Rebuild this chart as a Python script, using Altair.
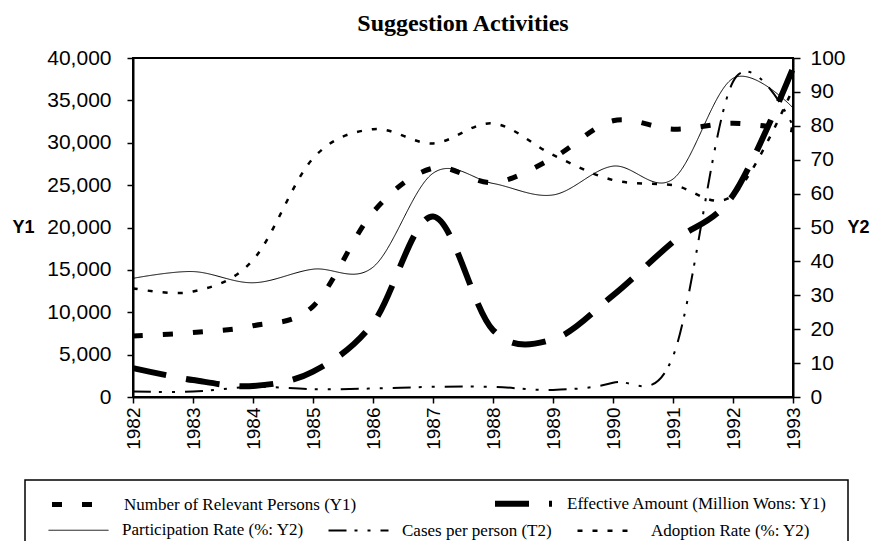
import altair as alt
import pandas as pd

# ---- data ----
years = list(range(1982, 1994))
relevant_persons = [7200, 7600, 8400, 10700, 21800, 27000, 25300, 28200, 32600, 31600, 32300, 31500]
effective_amount = [3400, 2000, 1300, 3000, 8700, 21300, 7900, 6800, 12000, 18300, 23800, 38800]
participation_rate = [35.0, 37.0, 33.7, 37.7, 38.3, 66.0, 63.0, 59.6, 68.1, 64.3, 94.0, 85.3]
cases_per_person = [1.6, 1.6, 3.0, 2.3, 2.5, 3.0, 3.0, 2.1, 4.2, 12.0, 93.0, 80.0]
adoption_rate = [32.1, 31.1, 40.4, 70.4, 79.0, 74.8, 80.7, 71.4, 64.0, 62.5, 59.5, 91.0]

y1_names = ["Number of Relevant Persons (Y1)", "Effective Amount (Million Wons: Y1)"]
y2_names = ["Participation Rate (%: Y2)", "Cases per person (T2)", "Adoption Rate (%: Y2)"]
y1_ticks = list(range(0, 40001, 5000))
y2_ticks = list(range(0, 101, 10))

rows1 = []
for name, vals in zip(y1_names, [relevant_persons, effective_amount]):
    for yr, v in zip(years, vals):
        rows1.append({"year": yr, "series": name, "value": v})
df1 = pd.DataFrame(rows1)

rows2 = []
for name, vals in zip(y2_names, [participation_rate, cases_per_person, adoption_rate]):
    for yr, v in zip(years, vals):
        rows2.append({"year": yr, "series": name, "value": v})
df2 = pd.DataFrame(rows2)

SANS = "Liberation Sans"
SERIF = "Liberation Serif"

x_enc = alt.X(
    "year:Q",
    scale=alt.Scale(domain=[1982, 1993], nice=False, zero=False),
    axis=alt.Axis(values=years, labelExpr="format(datum.value, 'd')", labelAngle=-90,
                  title=None, labelFontSize=19, labelPadding=4, tickSize=6),
)


def legend_params(lx, ly, cols, pad, size):
    return alt.Legend(
        title=None, orient="none", legendX=lx, legendY=ly, direction="horizontal",
        columns=cols, columnPadding=pad, symbolType="stroke", symbolSize=size,
        labelFont=SERIF, labelFontSize=17, labelColor="black", labelOffset=12,
        padding=0, symbolStrokeColor="black", labelLimit=400,
    )


leg1 = legend_params(-84, 414, 2, 126, 3249)
leg2 = legend_params(-86, 441, 3, 20, 3600)

left = alt.Chart(df1).mark_line(interpolate="cardinal", color="black").encode(
    x=x_enc,
    y=alt.Y("value:Q", scale=alt.Scale(domain=[0, 40000], nice=False),
            axis=alt.Axis(orient="left", values=y1_ticks,
                          labelExpr="format(datum.value, ',')", title="Y1",
                          labelPadding=16, tickSize=6, titleAngle=0, titleX=-121,
                          titleY=169.5, titleAlign="left", titleBaseline="middle",
                          titleFont=SANS, titleFontSize=18, titleFontWeight="bold")),
    strokeDash=alt.StrokeDash("series:N", sort=y1_names,
                              scale=alt.Scale(domain=y1_names, range=[[10, 20], [34, 20]]),
                              legend=leg1),
    strokeWidth=alt.StrokeWidth("series:N", sort=y1_names,
                                scale=alt.Scale(type="ordinal", domain=y1_names, range=[5, 6]),
                                legend=leg1),
)

right = alt.Chart(df2).mark_line(interpolate="cardinal", color="black").encode(
    x=x_enc,
    y=alt.Y("value:Q", scale=alt.Scale(domain=[0, 100], nice=False),
            axis=alt.Axis(orient="right", values=y2_ticks,
                          labelExpr="format(datum.value, 'd')", title="Y2",
                          labelPadding=10, tickSize=7, titleAngle=0, titleX=54,
                          titleY=169.5, titleAlign="left", titleBaseline="middle",
                          titleFont=SANS, titleFontSize=18, titleFontWeight="bold")),
    strokeDash=alt.StrokeDash("series:N", sort=y2_names,
                              scale=alt.Scale(domain=y2_names,
                                              range=[[1, 0], [18, 8, 3, 10, 3, 10], [5, 10]]),
                              legend=leg2),
    strokeWidth=alt.StrokeWidth("series:N", sort=y2_names,
                                scale=alt.Scale(type="ordinal", domain=y2_names, range=[1, 2, 2.5]),
                                legend=leg2),
)

# legend frame (decoration only)
box = alt.Chart(alt.Data(values=[{}])).mark_rect(
    filled=False, color="black", strokeWidth=1.5
).encode(x=alt.value(-108), x2=alt.value(715), y=alt.value(422), y2=alt.value(489))

chart = alt.layer(box, left, right).resolve_scale(
    y="independent", strokeDash="independent", strokeWidth="independent"
).properties(
    width=660, height=339,
    autosize=alt.AutoSizeParams(type="none"),
    padding={"left": 125, "top": 50, "right": 79, "bottom": 144},
    title=alt.TitleParams("Suggestion Activities", font=SERIF, fontSize=24,
                          fontWeight="bold", color="black", anchor="middle",
                          frame="group", baseline="alphabetic", offset=0, dy=8),
).configure_view(
    stroke="black", strokeWidth=2
).configure_axis(
    domainColor="black", domainWidth=2, tickColor="black", tickWidth=1.5,
    labelFont=SANS, labelFontSize=21, labelColor="black", grid=False,
    titleColor="black",
)

chart.save("out.html", embed_options={"renderer": "svg", "actions": False})
